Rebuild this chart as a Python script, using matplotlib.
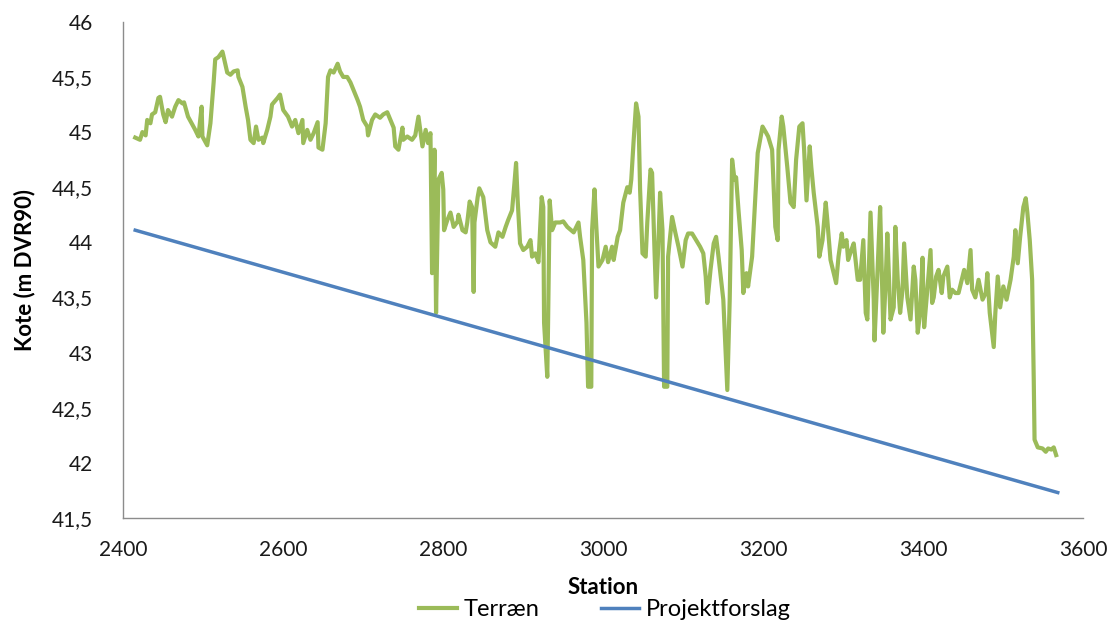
import matplotlib.pyplot as plt
from matplotlib.ticker import FixedLocator, FixedFormatter

# terrain profile along the route (station in m, level in m DVR90)
terraen_station = [
    2415, 2421, 2424, 2428, 2430, 2434, 2436, 2440, 2444, 2446, 2450, 2453, 2456, 2461,
    2465, 2469, 2474, 2476, 2481, 2490, 2494, 2498, 2499, 2505, 2509, 2513, 2515, 2519,
    2524, 2525, 2530, 2534, 2538, 2543, 2544, 2549, 2553, 2556, 2559, 2563, 2566, 2569,
    2574, 2575, 2580, 2584, 2586, 2593, 2596,
    2600, 2606, 2611, 2615, 2619, 2624, 2625, 2630, 2634, 2638, 2643, 2644, 2649, 2653,
    2656, 2659, 2663, 2668, 2671, 2675, 2680, 2684, 2688, 2693, 2696, 2700, 2705, 2706,
    2711, 2715, 2721, 2725, 2730, 2734, 2738, 2740, 2744, 2749, 2750, 2755, 2761, 2765,
    2769, 2774, 2778, 2781, 2784,
    2786, 2789, 2791, 2794, 2798, 2800, 2801, 2805, 2809, 2813, 2818, 2819, 2824, 2828,
    2830, 2833, 2836, 2838, 2839, 2843, 2845, 2850, 2855, 2859, 2865, 2869, 2874, 2878,
    2881, 2886, 2889, 2891, 2893, 2896, 2900, 2905, 2909, 2911, 2915, 2919, 2923, 2925,
    2926, 2930, 2931, 2933, 2936, 2940, 2946, 2950, 2955,
    2963, 2969, 2971, 2975, 2979, 2981, 2985, 2986, 2989, 2991, 2994, 2999, 3003, 3006,
    3011, 3013, 3018, 3021, 3025, 3030, 3033, 3035, 3038, 3041, 3044, 3046, 3049, 3053,
    3055, 3059, 3061, 3064, 3066, 3069, 3071, 3074, 3076, 3080, 3081, 3086, 3090, 3094,
    3099, 3103, 3106, 3111, 3116, 3121, 3125, 3128, 3130, 3134, 3138, 3141, 3144,
    3150, 3155, 3158, 3161, 3164, 3166, 3169, 3173, 3175, 3179, 3181, 3186, 3188, 3193,
    3199, 3203, 3206, 3211, 3215, 3218, 3219, 3223, 3225, 3230, 3234, 3238, 3241, 3245,
    3249, 3251, 3254, 3258, 3260, 3263, 3268, 3270, 3274, 3278, 3280, 3284, 3288, 3291,
    3294, 3298, 3300, 3304, 3306, 3310, 3313, 3318, 3321, 3325, 3328, 3330, 3334, 3338,
    3339, 3343,
    3346, 3350, 3353, 3355, 3359, 3363, 3365, 3368, 3371, 3374, 3376, 3380, 3384, 3388,
    3390, 3393, 3396, 3399, 3401, 3405, 3409, 3411, 3413, 3416, 3419, 3423, 3425, 3430,
    3433, 3436, 3440, 3444, 3449, 3451, 3455, 3459, 3461, 3465, 3469, 3474, 3478, 3480,
    3483, 3488, 3490, 3493, 3496, 3500, 3504, 3509, 3513, 3515, 3518, 3521, 3525, 3528,
    3530, 3533, 3536, 3538, 3539, 3543, 3549, 3553, 3556, 3560, 3563, 3566,
]
terraen_kote = [
    44.95, 44.93, 45.00, 44.97, 45.11, 45.08, 45.16, 45.18, 45.31, 45.32, 45.16, 45.09, 45.20, 45.14,
    45.23, 45.29, 45.26, 45.27, 45.14, 45.02, 44.96, 45.23, 44.96, 44.88, 45.08, 45.45, 45.66, 45.68,
    45.73, 45.70, 45.54, 45.52, 45.55, 45.56, 45.50, 45.41, 45.23, 45.11, 44.93, 44.90, 45.05, 44.93,
    44.95, 44.90, 45.02, 45.14, 45.25, 45.31, 45.34,
    45.20, 45.14, 45.05, 45.11, 44.99, 45.11, 44.90, 45.02, 44.93, 44.99, 45.09, 44.86, 44.84, 45.08,
    45.50, 45.56, 45.54, 45.62, 45.55, 45.50, 45.50, 45.45, 45.38, 45.29, 45.23, 45.11, 45.05, 44.97,
    45.11, 45.16, 45.13, 45.16, 45.18, 45.11, 45.04, 44.87, 44.84, 45.04, 44.93, 44.96, 44.93, 44.97,
    45.14, 44.87, 45.02, 44.90, 44.99,
    43.72, 44.84, 43.36, 44.57, 44.63, 44.48, 44.11, 44.20, 44.27, 44.14, 44.19, 44.25, 44.11, 44.09,
    44.18, 44.37, 44.32, 43.55, 44.18, 44.41, 44.49, 44.41, 44.11, 44.00, 43.96, 44.09, 44.05, 44.14,
    44.20, 44.29, 44.54, 44.72, 44.38, 43.99, 43.93, 43.96, 44.02, 43.87, 43.90, 43.82, 44.41, 44.32,
    43.27, 42.78, 43.27, 44.38, 44.11, 44.18, 44.18, 44.19, 44.14,
    44.09, 44.18, 44.05, 43.84, 43.27, 42.69, 42.69, 44.11, 44.48, 44.18, 43.78, 43.84, 43.96, 43.82,
    43.96, 43.84, 44.05, 44.11, 44.36, 44.50, 44.45, 44.57, 44.93, 45.26, 45.14, 44.48, 43.90, 43.87,
    44.18, 44.66, 44.63, 43.93, 43.50, 44.02, 44.45, 44.11, 42.69, 42.69, 43.87, 44.23, 44.09, 43.96,
    43.78, 44.02, 44.08, 44.08, 44.02, 43.96, 43.90, 43.69, 43.45, 43.75, 43.99, 44.05, 43.87,
    43.48, 42.66, 43.48, 44.75, 44.57, 44.59, 44.29, 43.93, 43.54, 43.72, 43.60, 43.87, 44.14, 44.81,
    45.05, 45.00, 44.96, 44.84, 44.14, 44.02, 44.84, 45.14, 45.05, 44.68, 44.36, 44.32, 44.75, 45.05,
    45.08, 44.84, 44.38, 44.87, 44.68, 44.45, 44.14, 43.87, 44.02, 44.36, 44.20, 43.84, 43.72, 43.63,
    43.87, 44.08, 43.96, 44.02, 43.84, 43.93, 43.99, 43.66, 43.66, 44.02, 43.36, 43.30, 44.27, 43.48,
    43.11, 43.78,
    44.32, 43.18, 43.66, 44.08, 43.30, 43.41, 44.14, 43.66, 43.36, 43.57, 43.99, 43.50, 43.30, 43.78,
    43.66, 43.18, 43.36, 43.86, 43.23, 43.57, 43.93, 43.45, 43.50, 43.69, 43.75, 43.54, 43.69, 43.78,
    43.50, 43.57, 43.54, 43.54, 43.69, 43.75, 43.63, 43.93, 43.57, 43.50, 43.66, 43.48, 43.54, 43.72,
    43.36, 43.05, 43.36, 43.69, 43.41, 43.60, 43.48, 43.66, 43.87, 44.11, 43.81, 44.05, 44.32, 44.40,
    44.27, 44.02, 43.66, 42.75, 42.21, 42.14, 42.13, 42.10, 42.13, 42.12, 42.14, 42.07,
]

# proposed gradient line
projekt_station = [2415, 3568]
projekt_kote = [44.11, 41.73]

y_ticks = [41.5, 42, 42.5, 43, 43.5, 44, 44.5, 45, 45.5, 46]
y_labels = ['41,5', '42', '42,5', '43', '43,5', '44', '44,5', '45', '45,5', '46']
x_ticks = [2400, 2600, 2800, 3000, 3200, 3400, 3600]

plt.rcParams['font.family'] = ['Lato', 'DejaVu Sans']

fig = plt.figure(figsize=(11.1, 6.24), dpi=100)
ax = fig.add_axes([0.111, 0.170, 0.865, 0.795])

ax.plot(terraen_station, terraen_kote, color='#9BBB59', lw=3.0, label='Terræn',
        solid_joinstyle='round')
ax.plot(projekt_station, projekt_kote, color='#4F81BD', lw=2.5, label='Projektforslag')

ax.set_xlim(2400, 3600)
ax.set_ylim(41.5, 46)
ax.yaxis.set_major_locator(FixedLocator(y_ticks))
ax.yaxis.set_major_formatter(FixedFormatter(y_labels))
ax.set_xticks(x_ticks)
ax.tick_params(axis='both', length=0, labelsize=15, colors='#1a1a1a')
ax.tick_params(axis='y', pad=22)
ax.tick_params(axis='x', pad=16)

for side in ['top', 'right']:
    ax.spines[side].set_visible(False)
for side in ['left', 'bottom']:
    ax.spines[side].set_color('#8c8c8c')
    ax.spines[side].set_linewidth(1.0)

ax.set_ylabel('Kote (m DVR90)', fontsize=16, fontweight='bold', labelpad=12)
ax.set_xlabel('Station', fontsize=16, fontweight='bold', labelpad=12)

fig.legend(loc='lower center', bbox_to_anchor=(0.545, -0.028), ncol=2, frameon=False,
           fontsize=17, handlelength=1.6, handletextpad=0.3, columnspacing=2.6)

fig.savefig('out.png', dpi=100)
